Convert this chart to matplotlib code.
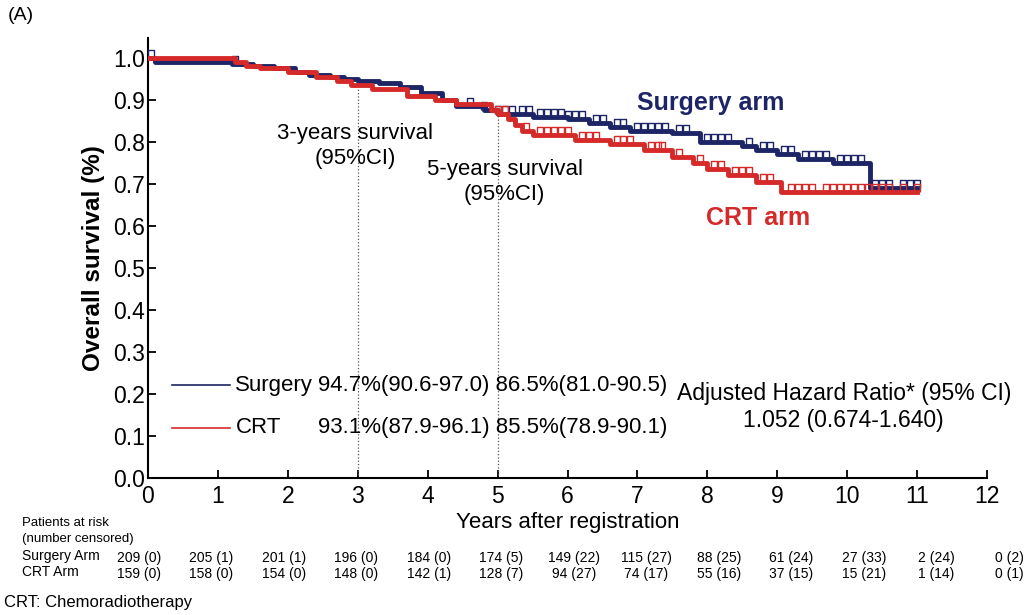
import matplotlib.pyplot as plt
import numpy as np
from matplotlib.path import Path

plt.rcParams['font.family'] = ['Liberation Sans', 'DejaVu Sans']

# Kaplan-Meier step data
surg_t = [0, 0.1, 1.2, 1.5, 1.8, 2.1, 2.3, 2.6, 2.8, 3.0, 3.3, 3.6, 3.9, 4.2, 4.4, 4.8, 5.0,
          5.5, 6.0, 6.3, 6.6, 6.9, 7.5, 7.9, 8.5, 8.7, 9.0, 9.3, 9.8, 10.33, 11.0]
surg_s = [1.0, 0.99, 0.985, 0.98, 0.975, 0.965, 0.96, 0.955, 0.95, 0.945, 0.94, 0.93, 0.915, 0.90,
          0.885, 0.875, 0.865, 0.86, 0.855, 0.845, 0.835, 0.825, 0.82, 0.80, 0.79, 0.78, 0.77,
          0.76, 0.75, 0.69, 0.69]
crt_t = [0, 1.25, 1.4, 1.6, 2.0, 2.4, 2.7, 2.9, 3.2, 3.7, 4.1, 4.4, 4.9, 5.0, 5.15, 5.25, 5.35,
         5.5, 6.1, 6.6, 7.1, 7.5, 7.8, 8.0, 8.3, 8.7, 9.05, 11.0]
crt_s = [1.0, 0.99, 0.98, 0.975, 0.965, 0.955, 0.945, 0.935, 0.925, 0.91, 0.90, 0.89, 0.875,
         0.865, 0.855, 0.84, 0.825, 0.815, 0.805, 0.795, 0.78, 0.765, 0.75, 0.735, 0.72, 0.705,
         0.68, 0.68]

surg_cens = [0.05, 1.25, 4.6, 4.8, 5.0, 5.1, 5.2, 5.35, 5.45, 5.6, 5.7, 5.8, 5.9, 6.0, 6.1, 6.2,
             6.4, 6.5, 6.7, 6.8, 7.0, 7.1, 7.2, 7.3, 7.4, 7.6, 7.7, 8.0, 8.1, 8.2, 8.3, 8.6, 8.8,
             8.9, 9.1, 9.2, 9.4, 9.5, 9.6, 9.7, 9.9, 10.0, 10.1, 10.2, 10.4, 10.5, 10.6, 10.8,
             10.9, 11.0]
crt_cens = [5.0, 5.1, 5.4, 5.6, 5.7, 5.8, 5.9, 6.0, 6.2, 6.3, 6.4, 6.7, 6.8, 6.9, 7.2, 7.3,
            7.35, 7.6, 7.9, 8.1, 8.2, 8.4, 8.5, 8.6, 8.8, 8.9, 9.2, 9.3, 9.4, 9.5, 9.7, 9.8, 9.9,
            10.0, 10.1, 10.2, 10.3, 10.4, 10.5, 10.6, 10.8, 11.0]

years = list(range(13))
surg_risk = ['209 (0)', '205 (1)', '201 (1)', '196 (0)', '184 (0)', '174 (5)', '149 (22)',
             '115 (27)', '88 (25)', '61 (24)', '27 (33)', '2 (24)', '0 (2)']
crt_risk = ['159 (0)', '158 (0)', '154 (0)', '148 (0)', '142 (1)', '128 (7)', '94 (27)',
            '74 (17)', '55 (16)', '37 (15)', '15 (21)', '1 (14)', '0 (1)']

navy = '#1d2566'
red = '#d62a2a'

# open rectangle censor mark sitting on the curve
cens_mark = Path([(-0.35, 0), (-0.35, 1), (0.35, 1), (0.35, 0)],
                 [Path.MOVETO, Path.LINETO, Path.LINETO, Path.LINETO])


def surv_at(ts, ss, t):
    i = np.searchsorted(ts, t, side='right') - 1
    return np.array(ss)[i]


fig = plt.figure(figsize=(10.24, 6.15), dpi=100)
ax = fig.add_axes([0.1445, 0.2228, 0.8195, 0.7154])

ax.step(surg_t, surg_s, where='post', color=navy, lw=3.5, zorder=3)
ax.step(crt_t, crt_s, where='post', color=red, lw=3.5, zorder=4)
ax.plot(surg_cens, surv_at(surg_t, surg_s, surg_cens), ls='none', marker=cens_mark,
        ms=12, mfc='none', mec=navy, mew=1.0, zorder=3)
ax.plot(crt_cens, surv_at(crt_t, crt_s, crt_cens), ls='none', marker=cens_mark,
        ms=12, mfc='none', mec=red, mew=1.0, zorder=4)

# dotted reference lines at 3 and 5 years
ax.plot([3, 3], [0, 0.93], ls=':', color='#555555', lw=0.9)
ax.plot([5, 5], [0, 0.865], ls=':', color='#555555', lw=0.9)

ax.set_xlim(0, 12)
ax.set_ylim(0, 1.047)
ax.set_xticks(years)
ax.set_yticks(np.arange(0, 1.01, 0.1))
ax.set_yticklabels(['%.1f' % v for v in np.arange(0, 1.01, 0.1)])
ax.tick_params(direction='in', length=6, width=1.3, labelsize=16.5)
ax.tick_params(axis='x', pad=5)
ax.tick_params(axis='y', pad=2)
for s in ['top', 'right']:
    ax.spines[s].set_visible(False)
for s in ['left', 'bottom']:
    ax.spines[s].set_linewidth(1.5)
ax.set_ylabel('Overall survival (%)', fontsize=17.5, fontweight='bold', labelpad=6)
ax.set_xlabel('Years after registration', fontsize=16, labelpad=3)

# annotations
fs = 16
ax.text(2.96, 0.82, '3-years survival', ha='center', va='center', fontsize=fs)
ax.text(2.96, 0.76, '(95%CI)', ha='center', va='center', fontsize=fs)
ax.text(5.1, 0.735, '5-years survival', ha='center', va='center', fontsize=fs)
ax.text(5.1, 0.675, '(95%CI)', ha='center', va='center', fontsize=fs)
ax.text(8.05, 0.893, 'Surgery arm', ha='center', va='center', fontsize=18,
        fontweight='bold', color=navy)
ax.text(8.73, 0.618, 'CRT arm', ha='center', va='center', fontsize=18,
        fontweight='bold', color=red)

ax.plot([0.34, 1.18], [0.221, 0.221], color=navy, lw=1.2)
ax.plot([0.34, 1.18], [0.119, 0.119], color=red, lw=1.2)
ax.text(1.25, 0.221, 'Surgery', va='center', fontsize=fs)
ax.text(2.43, 0.221, '94.7%(90.6-97.0) 86.5%(81.0-90.5)', va='center', fontsize=fs)
ax.text(1.25, 0.119, 'CRT', va='center', fontsize=fs)
ax.text(2.43, 0.119, '93.1%(87.9-96.1) 85.5%(78.9-90.1)', va='center', fontsize=fs)
ax.text(9.95, 0.2, 'Adjusted Hazard Ratio* (95% CI)', ha='center', va='center', fontsize=16.5)
ax.text(9.95, 0.137, '1.052 (0.674-1.640)', ha='center', va='center', fontsize=16.5)

# risk table
fig.text(22 / 1024, 1 - 523 / 615, 'Patients at risk', fontsize=9.5, va='center')
fig.text(22 / 1024, 1 - 539 / 615, '(number censored)', fontsize=9.5, va='center')
fig.text(22 / 1024, 1 - 556 / 615, 'Surgery Arm', fontsize=10, va='center')
fig.text(22 / 1024, 1 - 572 / 615, 'CRT Arm', fontsize=10, va='center')
trans = ax.get_xaxis_transform()
for yr, sr, cr in zip(years, surg_risk, crt_risk):
    xc = yr * 1.037 - 0.13
    ax.text(xc, -(556 - 478) / 430.0, sr, transform=trans, ha='center', va='center',
            fontsize=10, clip_on=False)
    ax.text(xc, -(572 - 478) / 430.0, cr, transform=trans, ha='center', va='center',
            fontsize=10, clip_on=False)

fig.text(4 / 1024, 1 - 603 / 615, 'CRT: Chemoradiotherapy', fontsize=12, va='center')
fig.text(8 / 1024, 1 - 15 / 615, '(A)', fontsize=14, va='center')

fig.savefig('out.png', dpi=100)
